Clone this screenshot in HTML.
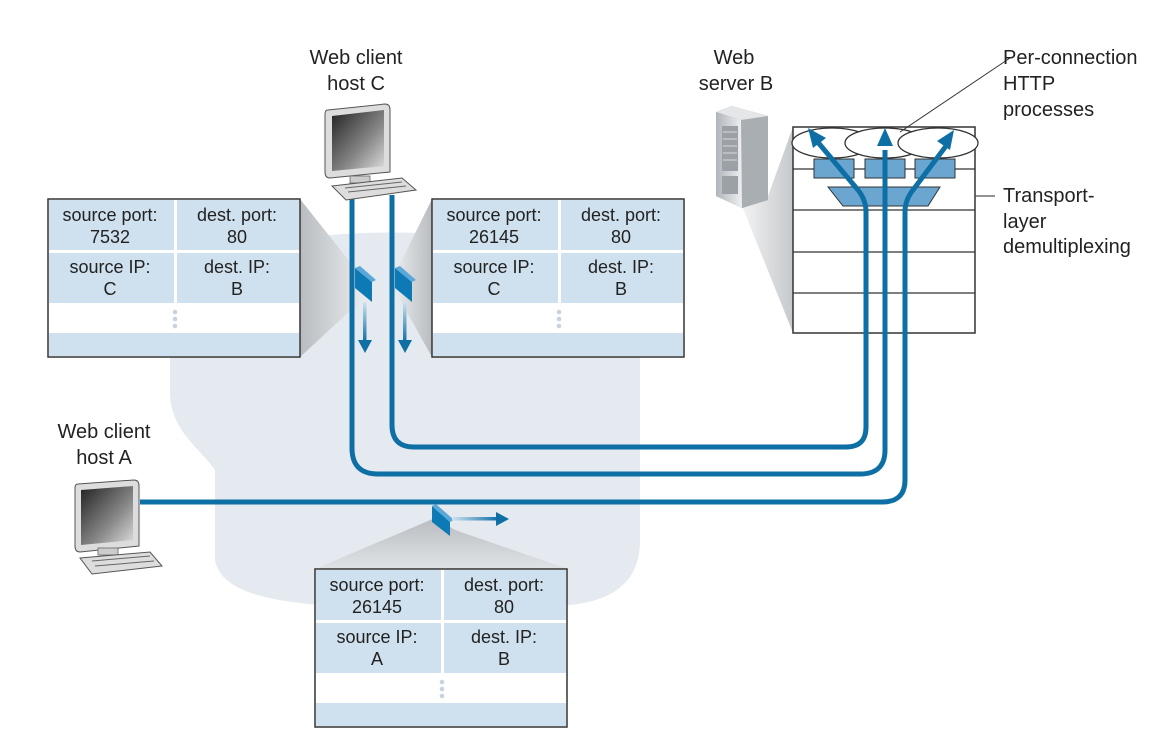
<!DOCTYPE html>
<html><head><meta charset="utf-8"><style>
html,body{margin:0;padding:0;background:#fff;}
svg{display:block;font-family:"Liberation Sans",sans-serif;}
text{font-size:18px;fill:#222;text-anchor:middle;}
</style></head><body>
<svg width="1167" height="747" viewBox="0 0 1167 747">
<defs>
<linearGradient id="sh" x1="0" y1="0" x2="1" y2="0"><stop offset="0" stop-color="#b8bcc0"/><stop offset="1" stop-color="#e8eaec"/></linearGradient>
<linearGradient id="sh2" x1="1" y1="0" x2="0" y2="0"><stop offset="0" stop-color="#b8bcc0"/><stop offset="1" stop-color="#e8eaec"/></linearGradient>
<linearGradient id="sh3" x1="0" y1="0" x2="0" y2="1"><stop offset="0" stop-color="#b8bcc0"/><stop offset="1" stop-color="#e0e3e6"/></linearGradient>
<linearGradient id="adn" x1="0" y1="0" x2="0" y2="1"><stop offset="0" stop-color="#cfe3f0"/><stop offset="1" stop-color="#0e6fa5"/></linearGradient>
<linearGradient id="art" x1="0" y1="0" x2="1" y2="0"><stop offset="0" stop-color="#cfe3f0"/><stop offset="1" stop-color="#0e6fa5"/></linearGradient>
<linearGradient id="scr" x1="0" y1="0" x2="1" y2="1"><stop offset="0" stop-color="#222"/><stop offset="0.6" stop-color="#888"/><stop offset="1" stop-color="#ddd"/></linearGradient>
<linearGradient id="srv" x1="0" y1="0" x2="1" y2="0"><stop offset="0" stop-color="#b0b5ba"/><stop offset="1" stop-color="#eef0f2"/></linearGradient>
<linearGradient id="srvshade" x1="0" y1="0" x2="1" y2="0"><stop offset="0" stop-color="#f2f3f4"/><stop offset="1" stop-color="#c6c9cc"/></linearGradient>
</defs>

<!-- cloud -->
<path d="M300 238 C380 228 470 232 540 248 C610 265 642 310 640 370 L640 540 C640 578 618 600 570 605 L320 605 C258 600 220 588 215 560 L215 470 C200 448 172 432 170 395 L170 330 C172 275 230 246 300 238 Z" fill="#e4eaef"/>

<!-- server shadow wedge -->
<polygon points="742,206 768,196 793,127 793,333" fill="url(#srvshade)"/>

<!-- shadow wedges -->
<polygon points="300,199 300,357 362,300 358,272" fill="url(#sh)"/>
<polygon points="432,199 432,357 400,300 396,272" fill="url(#sh2)"/>
<polygon points="315,569 568,569 455,530 435,518" fill="url(#sh3)"/>

<!-- tables -->
<g id="t1">
<rect x="48" y="199" width="252" height="158" fill="#fff" stroke="#333" stroke-width="1.5"/>
<rect x="49" y="200" width="125" height="50" fill="#cfe0ee"/>
<rect x="177" y="200" width="122" height="50" fill="#cfe0ee"/>
<rect x="49" y="253" width="125" height="50" fill="#cfe0ee"/>
<rect x="177" y="253" width="122" height="50" fill="#cfe0ee"/>
<rect x="49" y="333" width="250" height="23" fill="#cfe0ee"/>
<circle cx="175" cy="312" r="2.3" fill="#c7d3de"/><circle cx="175" cy="319" r="2.3" fill="#c7d3de"/><circle cx="175" cy="326" r="2.3" fill="#c7d3de"/>
</g>
<text x="110" y="221">source port:</text><text x="110" y="243">7532</text>
<text x="237" y="221">dest. port:</text><text x="237" y="243">80</text>
<text x="110" y="273">source IP:</text><text x="110" y="295">C</text>
<text x="237" y="273">dest. IP:</text><text x="237" y="295">B</text>

<use href="#t1" transform="translate(384,0)"/>
<text x="494" y="221">source port:</text><text x="494" y="243">26145</text>
<text x="621" y="221">dest. port:</text><text x="621" y="243">80</text>
<text x="494" y="273">source IP:</text><text x="494" y="295">C</text>
<text x="621" y="273">dest. IP:</text><text x="621" y="295">B</text>

<use href="#t1" transform="translate(267,370)"/>
<text x="377" y="591">source port:</text><text x="377" y="613">26145</text>
<text x="504" y="591">dest. port:</text><text x="504" y="613">80</text>
<text x="377" y="643">source IP:</text><text x="377" y="665">A</text>
<text x="504" y="643">dest. IP:</text><text x="504" y="665">B</text>

<!-- server stack -->
<rect x="793" y="127" width="182" height="206" fill="#fff" stroke="#333" stroke-width="1.5"/>
<g stroke="#333" stroke-width="1.3">
<line x1="793" y1="169" x2="975" y2="169"/><line x1="793" y1="210" x2="975" y2="210"/>
<line x1="793" y1="252" x2="975" y2="252"/><line x1="793" y1="293" x2="975" y2="293"/>
</g>
<g fill="#fff" stroke="#333" stroke-width="1.3">
<ellipse cx="832" cy="143" rx="40" ry="15"/><ellipse cx="885" cy="143" rx="40" ry="15"/><ellipse cx="938" cy="143" rx="40" ry="15"/>
</g>
<g fill="#6aa6d0" stroke="#333" stroke-width="1">
<rect x="814" y="159" width="40" height="19"/><rect x="865" y="159" width="40" height="19"/><rect x="915" y="159" width="40" height="19"/>
<polygon points="828,187 940,187 928,206 843,206"/>
</g>

<!-- server tower -->
<polygon points="716,112 732,106 768,116 768,200 742,208 716,196" fill="#9aa0a6"/>
<polygon points="741,120 768,116 768,200 742,208" fill="#a9aeb3"/>
<polygon points="716,112 732,106 768,116 741,120" fill="#e4e6e8"/>
<polygon points="716,112 741,120 742,208 716,196" fill="url(#srv)"/>
<g fill="#9ba1a7"><rect x="722" y="126" width="16" height="45"/><rect x="722" y="176" width="16" height="18"/></g>
<g stroke="#d8dbde" stroke-width="1"><line x1="723" y1="132" x2="737" y2="132"/><line x1="723" y1="139" x2="737" y2="139"/><line x1="723" y1="146" x2="737" y2="146"/><line x1="723" y1="153" x2="737" y2="153"/><line x1="723" y1="160" x2="737" y2="160"/></g>

<!-- connectors -->
<g fill="none" stroke="#0e6fa5" stroke-width="5">
<path d="M352 195 L352 448 Q352 474 378 474 L860 474 Q885 474 885 450 L885 150"/>
<path d="M392 195 L392 425 Q392 447 414 447 L846 447 Q866 447 866 427 L866 212 Q866 200 858 190 L816 140"/>
<path d="M140 502 L882 502 Q905 502 905 480 L905 212 Q905 200 913 190 L946 146"/>
</g>
<g fill="#0e6fa5">
<polygon points="808,128 826,138 813,148"/>
<polygon points="885,128 877,146 893,146"/>
<polygon points="954,130 950,150 937,141"/>
</g>
<line x1="900" y1="132" x2="1010" y2="58" stroke="#333" stroke-width="1"/>
<line x1="975" y1="196" x2="995" y2="196" stroke="#555" stroke-width="1.2"/>

<!-- packets -->
<g fill="#0e7ab5">
<polygon points="355,268 372,282 372,302 355,288"/>
<polygon points="395,268 412,282 412,302 395,288"/>
<polygon points="432,506 450,522 450,536 432,522"/>
</g>
<g fill="#5aa8d8"><polygon points="355,268 360,266 376,280 372,282"/><polygon points="395,268 400,266 416,280 412,282"/><polygon points="432,506 436,504 454,520 450,522"/></g>
<rect x="363" y="302" width="3.5" height="40" fill="url(#adn)"/>
<polygon points="358,340 372,340 365,353" fill="#0e6fa5"/>
<rect x="403" y="302" width="3.5" height="40" fill="url(#adn)"/>
<polygon points="398,340 412,340 405,353" fill="#0e6fa5"/>
<rect x="452" y="517" width="46" height="3.5" fill="url(#art)"/>
<polygon points="496,512 496,526 509,519" fill="#0e6fa5"/>

<!-- host C -->
<g>
<path d="M328 110 L385 104 Q390 104 390 110 L390 172 L330 178 Q325 178 325 172 L325 114 Q325 110 328 110Z" fill="#ddd" stroke="#555" stroke-width="1"/>
<polygon points="332,116 384,110 384,166 332,171" fill="url(#scr)"/>
<rect x="350" y="176" width="20" height="7" fill="#ccc" stroke="#666" stroke-width="0.8"/>
<polygon points="332,186 402,178 416,190 346,200" fill="#ddd" stroke="#555" stroke-width="1"/>
<g stroke="#666" stroke-width="1"><line x1="345" y1="188" x2="402" y2="182"/><line x1="348" y1="192" x2="406" y2="186"/></g>
</g>
<!-- host A -->
<g>
<path d="M78 484 L134 480 Q139 480 139 486 L139 546 L80 552 Q75 552 75 546 L75 488 Q75 484 78 484Z" fill="#ddd" stroke="#555" stroke-width="1"/>
<polygon points="81,490 133,486 133,540 81,545" fill="url(#scr)"/>
<rect x="98" y="548" width="20" height="7" fill="#ccc" stroke="#666" stroke-width="0.8"/>
<polygon points="80,558 150,552 162,566 92,574" fill="#ddd" stroke="#555" stroke-width="1"/>
<g stroke="#666" stroke-width="1"><line x1="92" y1="561" x2="150" y2="556"/><line x1="95" y1="566" x2="154" y2="561"/></g>
</g>

<!-- labels -->
<text x="356" y="64" style="font-size:20px">Web client</text>
<text x="356" y="90" style="font-size:20px">host C</text>
<text x="104" y="438" style="font-size:20px">Web client</text>
<text x="104" y="464" style="font-size:20px">host A</text>
<text x="734" y="64" style="font-size:20px">Web</text>
<text x="736" y="90" style="font-size:20px">server B</text>
<text x="1003" y="64" style="font-size:20px;text-anchor:start">Per-connection</text>
<text x="1003" y="90" style="font-size:20px;text-anchor:start">HTTP</text>
<text x="1003" y="116" style="font-size:20px;text-anchor:start">processes</text>
<text x="1003" y="202" style="font-size:20px;text-anchor:start">Transport-</text>
<text x="1003" y="228" style="font-size:20px;text-anchor:start">layer</text>
<text x="1003" y="253" style="font-size:20px;text-anchor:start">demultiplexing</text>
</svg>
</body></html>
